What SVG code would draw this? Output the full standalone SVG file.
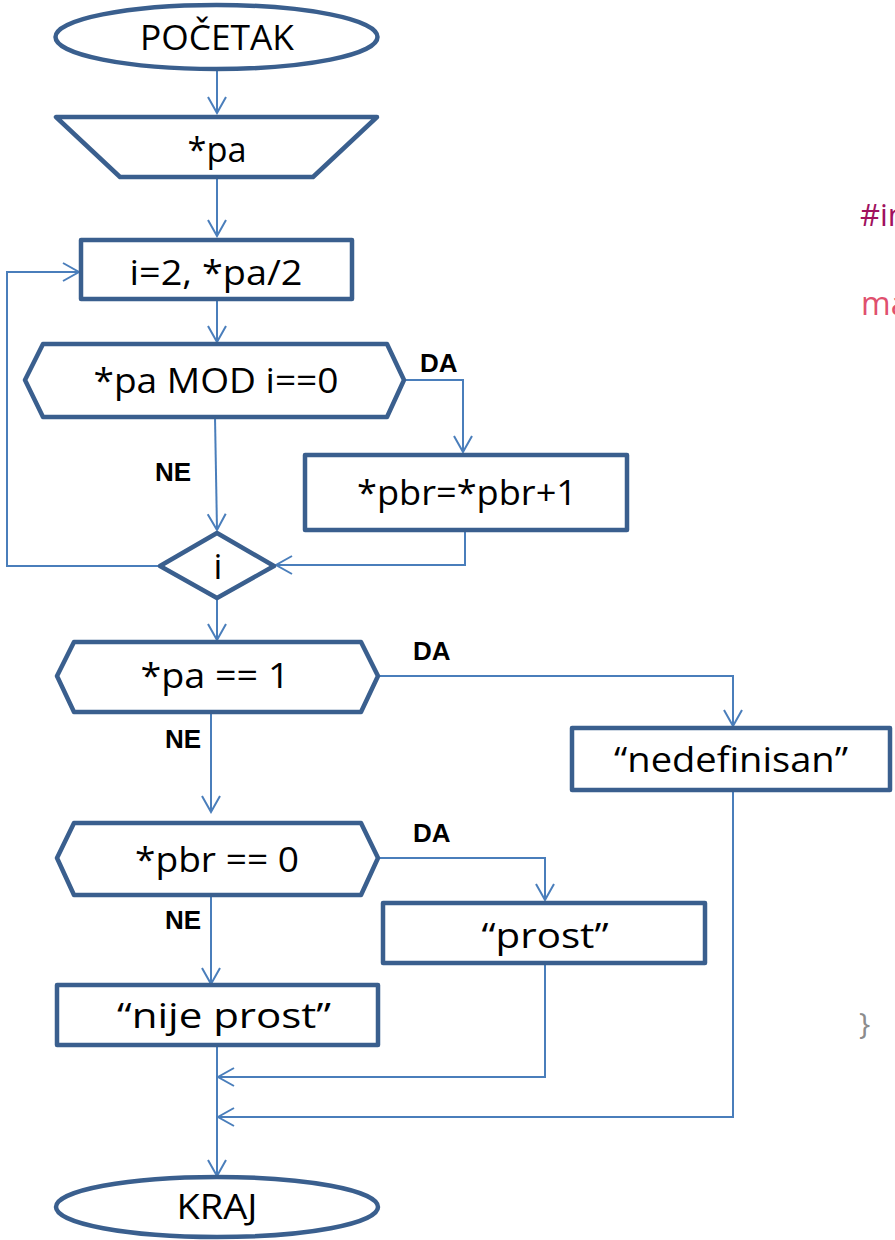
<svg xmlns="http://www.w3.org/2000/svg" width="895" height="1240" viewBox="0 0 895 1240">
  <style>
    .node { fill: #ffffff; stroke: #3A5F8E; stroke-width: 4.5; stroke-linejoin: round; }
    .lbl { font-family: "Open Sans", "Liberation Sans", sans-serif; font-size: 35px; fill: #000000; text-anchor: middle; }
    .tag { font-family: "Liberation Sans", Arial, sans-serif; font-size: 26px; font-weight: bold; fill: #000000; }
    .edge { fill: none; stroke: #4A7EBB; stroke-width: 2; }
    .code { font-family: "Open Sans", "Liberation Sans", sans-serif; }
  </style>
  <defs>
    <marker id="ah" markerUnits="userSpaceOnUse" markerWidth="20" markerHeight="22" viewBox="0 0 20 22" refX="18" refY="11" orient="auto">
      <path d="M2,2 L18,11 L2,20" fill="none" stroke="#4A7EBB" stroke-width="2"/>
    </marker>
  </defs>
  <rect width="895" height="1240" fill="#ffffff"/>

  <!-- connectors -->
  <g id="connectors">
    <path class="edge" d="M217,70 L217,113" marker-end="url(#ah)"/>
    <path class="edge" d="M217,177 L217,236" marker-end="url(#ah)"/>
    <path class="edge" d="M217,300 L217,342" marker-end="url(#ah)"/>
    <path class="edge" d="M404,380 L463,380 L463,452" marker-end="url(#ah)"/>
    <path class="edge" d="M215,417 L217,530" marker-end="url(#ah)"/>
    <path class="edge" d="M465,531 L465,565 L276,565" marker-end="url(#ah)"/>
    <path class="edge" d="M160,566 L7,566 L7,272 L79,272" marker-end="url(#ah)"/>
    <path class="edge" d="M217,598 L217,640" marker-end="url(#ah)"/>
    <path class="edge" d="M378,676 L733,676 L733,726" marker-end="url(#ah)"/>
    <path class="edge" d="M211,712 L211,812" marker-end="url(#ah)"/>
    <path class="edge" d="M378,858 L545,858 L545,900" marker-end="url(#ah)"/>
    <path class="edge" d="M211,895 L211,984" marker-end="url(#ah)"/>
    <path class="edge" d="M217,1045 L217,1176" marker-end="url(#ah)"/>
    <path class="edge" d="M545,963 L545,1077 L218,1077" marker-end="url(#ah)"/>
    <path class="edge" d="M733,790 L733,1117 L218,1117" marker-end="url(#ah)"/>
  </g>

  <!-- branch labels -->
  <g id="branch-labels">
    <text class="tag" x="420" y="372">DA</text>
    <text class="tag" x="155" y="481">NE</text>
    <text class="tag" x="413" y="660">DA</text>
    <text class="tag" x="165" y="748">NE</text>
    <text class="tag" x="413" y="842">DA</text>
    <text class="tag" x="165" y="929">NE</text>
  </g>

  <g id="start">
    <ellipse class="node" cx="216.5" cy="37" rx="161" ry="32"/>
    <text class="lbl" x="217" y="50" textLength="154" lengthAdjust="spacingAndGlyphs">POČETAK</text>
  </g>

  <g id="input-pa">
    <polygon class="node" points="56,117 377,117 313,177 120,177"/>
    <text class="lbl" x="217" y="162" textLength="59" lengthAdjust="spacingAndGlyphs">*pa</text>
  </g>

  <g id="init-loop">
    <rect class="node" x="81" y="240" width="271" height="59"/>
    <text class="lbl" x="216" y="285" textLength="173" lengthAdjust="spacingAndGlyphs">i=2, *pa/2</text>
  </g>

  <g id="cond-mod">
    <polygon class="node" points="25,380 43,344 387,344 404,380 387,417 43,417"/>
    <text class="lbl" x="216" y="393" textLength="245" lengthAdjust="spacingAndGlyphs">*pa MOD i==0</text>
  </g>

  <g id="inc-pbr">
    <rect class="node" x="305" y="455" width="322" height="75"/>
    <text class="lbl" x="467" y="505" textLength="220" lengthAdjust="spacingAndGlyphs">*pbr=*pbr+1</text>
  </g>

  <g id="loop-i">
    <polygon class="node" points="160,566 217,533 274,566 217,598"/>
    <text class="lbl" x="218" y="579">i</text>
  </g>

  <g id="cond-one">
    <polygon class="node" points="57,676 74,642 361,642 378,676 361,712 74,712"/>
    <text class="lbl" x="215" y="688" textLength="149" lengthAdjust="spacingAndGlyphs">*pa == 1</text>
  </g>

  <g id="out-undefined">
    <rect class="node" x="572" y="728" width="318" height="62"/>
    <text class="lbl" x="731" y="772" textLength="234" lengthAdjust="spacingAndGlyphs">“nedefinisan”</text>
  </g>

  <g id="cond-zero">
    <polygon class="node" points="57,858 74,823 361,823 378,858 361,895 74,895"/>
    <text class="lbl" x="217" y="872" textLength="164" lengthAdjust="spacingAndGlyphs">*pbr == 0</text>
  </g>

  <g id="out-prime">
    <rect class="node" x="383" y="903" width="322" height="60"/>
    <text class="lbl" x="545" y="948" textLength="127" lengthAdjust="spacingAndGlyphs">“prost”</text>
  </g>

  <g id="out-not-prime">
    <rect class="node" x="57" y="985" width="321" height="60"/>
    <text class="lbl" x="224" y="1028" textLength="214" lengthAdjust="spacingAndGlyphs">“nije prost”</text>
  </g>

  <g id="end">
    <ellipse class="node" cx="217" cy="1207" rx="161" ry="30"/>
    <text class="lbl" x="217" y="1219" textLength="81" lengthAdjust="spacingAndGlyphs">KRAJ</text>
  </g>

  <!-- source listing at the right edge, running past the page -->
  <g id="listing">
    <text class="code" x="860" y="226" font-size="31" fill="#A0115E">#in</text>
    <text class="code" x="861" y="315" font-size="32" fill="#E0506E">ma</text>
    <text class="code" x="859" y="1034" font-size="30" fill="#8C8C8C">}</text>
  </g>
</svg>
